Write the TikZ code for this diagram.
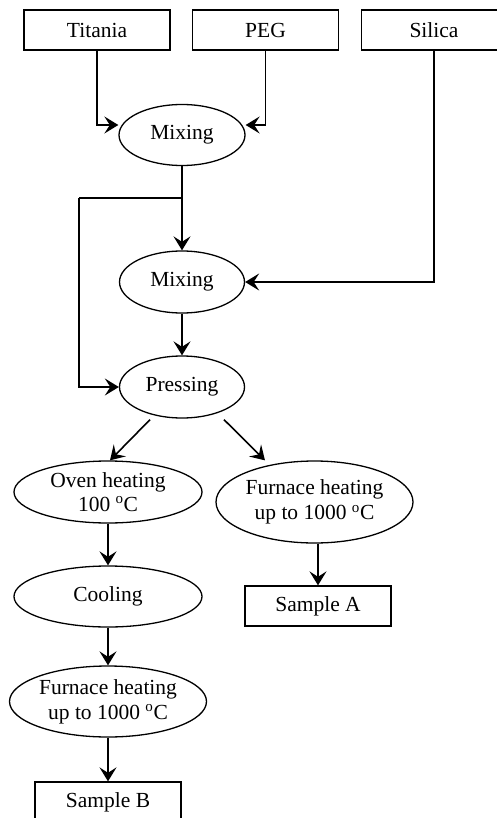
\documentclass[tikz,border=0pt]{standalone}
\usepackage{fontspec}
\setmainfont{Liberation Serif}
\usetikzlibrary{shapes.geometric,arrows.meta,calc}
\begin{document}
\begin{tikzpicture}[x=1pt,y=-1pt,
  box/.style={draw,line width=1.3pt,rectangle,minimum width=146pt,minimum height=40pt,inner sep=0pt,font=\fontsize{21.5}{25}\selectfont},
  oval/.style={draw,line width=1.3pt,ellipse,inner sep=0pt,font=\fontsize{21.5}{25}\selectfont,align=center},
  arr/.style={line width=1.6pt,-{Stealth[length=14pt,width=17pt,inset=5.5pt]}},
  ln/.style={line width=1.6pt}]
\useasboundingbox (0,0) rectangle (497,818);
\node[box] (tit) at (97,30) {Titania};
\node[box] (peg) at (265.5,30) {PEG};
\node[box,minimum width=145pt] (sil) at (434,30) {Silica};
\node[oval,minimum width=126pt,minimum height=61pt] (mix1) at (182,135) {Mixing};
\node[oval,minimum width=125pt,minimum height=62pt] (mix2) at (182,282) {Mixing};
\node[oval,minimum width=125pt,minimum height=62pt] (press) at (182,387) {Pressing};
\node[oval,minimum width=188pt,minimum height=62pt] (oven) at (108,492) {Oven heating\\[-1pt]100 \textsuperscript{o}C};
\node[oval,minimum width=197pt,minimum height=82pt] (furA) at (314.5,502) {Furnace heating\\up to 1000 \textsuperscript{o}C};
\node[box] (sA) at (318,606) {Sample A};
\node[oval,minimum width=188pt,minimum height=61pt] (cool) at (108,596.5) {Cooling};
\node[oval,minimum width=197pt,minimum height=71pt] (furB) at (108,701.5) {Furnace heating\\up to 1000 \textsuperscript{o}C};
\node[box] (sB) at (108,802) {Sample B};
\draw[arr] (tit.south) |- ([yshift=10pt]mix1.west);
\draw[arr] (peg.south) |- ([yshift=10pt]mix1.east);
\draw[arr] (sil.south) |- (mix2.east);
\draw[arr] (mix1.south) -- (mix2.north);
\coordinate (j) at (182,198);
\coordinate (lx) at (79,198);
\draw[ln] (j) -- (lx);
\draw[arr] (lx) |- (press.west);
\draw[arr] (mix2.south) -- (press.north);
\draw[arr] ($(press.south)+(-32,1)$) -- ($(oven.north)+(2,0)$);
\draw[arr] ($(press.south)+(42,1)$) -- ($(furA.north)+(-49.5,0)$);
\draw[arr] (sA.north |- furA.south) -- (sA.north);
\draw[arr] (oven.south) -- (cool.north);
\draw[arr] (cool.south) -- (furB.north);
\draw[arr] (furB.south) -- (sB.north);
\end{tikzpicture}
\end{document}
